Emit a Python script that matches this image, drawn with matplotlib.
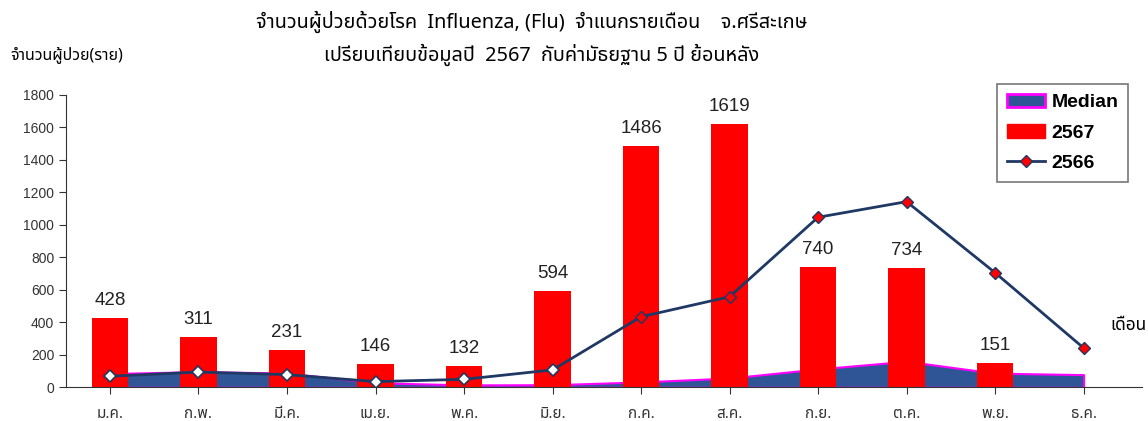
import matplotlib
matplotlib.use("Agg")
import matplotlib.pyplot as plt
from matplotlib import font_manager
from matplotlib.ft2font import FT2Font
from matplotlib.patches import Patch
from matplotlib.lines import Line2D
import numpy as np

# data
months = ["ม.ค.", "ก.พ.", "มี.ค.", "เม.ย.", "พ.ค.", "มิ.ย.",
          "ก.ค.", "ส.ค.", "ก.ย.", "ต.ค.", "พ.ย.", "ธ.ค."]
cases_2567 = [428, 311, 231, 146, 132, 594, 1486, 1619, 740, 734, 151, np.nan]
cases_2566 = [68, 94, 78, 35, 49, 107, 434, 557, 1046, 1142, 705, 242]
median_5yr = [85, 96, 88, 28, 15, 16, 33, 57, 113, 160, 87, 78]


def find_thai_font():
    # pick any installed family that actually has Thai glyphs
    found = []
    for f in font_manager.fontManager.ttflist:
        try:
            if 0x0E08 in FT2Font(f.fname).get_charmap():
                found.append(f.name)
        except Exception:
            pass
    for pref in ["Tahoma", "Noto Sans Thai", "Noto Sans Thai UI", "Loma", "Garuda", "Sarabun"]:
        if pref in found:
            return pref
    if found:
        return found[0]
    return "DejaVu Sans"


thai = find_thai_font()
plt.rcParams['font.family'] = [thai, 'Liberation Sans', 'DejaVu Sans']
num_font = ['Liberation Sans', 'DejaVu Sans']

fig = plt.figure(figsize=(11.48, 4.21), dpi=100)
ax = fig.add_axes([66 / 1148, 1 - 387.3 / 421, (1142 - 66) / 1148, (387.3 - 94.7) / 421])

x = np.arange(len(months))

ax.fill_between(x, median_5yr, 0, facecolor='#2F5597', edgecolor='#FF00FF', linewidth=1.5, zorder=1)
bars = ax.bar(x, cases_2567, width=0.41, color='#FF0000', zorder=2)
ax.plot(x, cases_2566, color='#1F3864', linewidth=2, zorder=3)
ax.plot(x[:6], cases_2566[:6], linestyle='none', marker='D', markersize=6.5,
        markerfacecolor='white', markeredgecolor='#1F3864', markeredgewidth=1.2, zorder=4)
ax.plot(x[6:], cases_2566[6:], linestyle='none', marker='D', markersize=6.5,
        markerfacecolor='#FF0000', markeredgecolor='#1F3864', markeredgewidth=1.0, zorder=4)

for xi, v in zip(x, cases_2567):
    if not np.isnan(v):
        ax.text(xi, v + 55, str(int(v)), ha='center', va='bottom', fontsize=13.5,
                family=num_font, color='#222222')

ax.set_xlim(-0.497, 11.66)
ax.set_ylim(0, 1800)
ax.set_yticks(range(0, 1801, 200))
ax.set_xticks(x)
ax.set_xticklabels(months, fontsize=11)
for lab in ax.get_yticklabels():
    lab.set_family(num_font)
    lab.set_fontsize(10)
ax.tick_params(axis='y', direction='out', length=5, colors='#333333')
ax.tick_params(axis='x', direction='out', length=5, pad=9, colors='#333333')
ax.spines['top'].set_visible(False)
ax.spines['right'].set_visible(False)
ax.spines['left'].set_color('#333333')
ax.spines['bottom'].set_color('#333333')

fig.text(532 / 1148, 1 - 22 / 421, "จำนวนผู้ป่วยด้วยโรค  Influenza, (Flu)  จำแนกรายเดือน    จ.ศรีสะเกษ",
         ha='center', va='center', fontsize=14.3, fontweight='bold')
fig.text(542 / 1148, 1 - 55 / 421, "เปรียบเทียบข้อมูลปี  2567  กับค่ามัธยฐาน 5 ปี ย้อนหลัง",
         ha='center', va='center', fontsize=14.3, fontweight='bold')
fig.text(10 / 1148, 1 - 55 / 421, "จำนวนผู้ป่วย(ราย)", ha='left', va='center',
         fontsize=11.5, fontweight='bold')
fig.text(1110 / 1148, 1 - 325 / 421, "เดือน", ha='left', va='center',
         fontsize=12.5, fontweight='bold')

handles = [
    Patch(facecolor='#2F5597', edgecolor='#FF00FF', linewidth=2),
    Patch(facecolor='#FF0000', edgecolor='#FF0000'),
    Line2D([0], [0], color='#1F3864', linewidth=2, marker='D', markersize=6,
           markerfacecolor='#FF0000', markeredgecolor='#1F3864'),
]
leg = fig.legend(handles, ["Median", "2567", "2566"], loc='upper right',
                 bbox_to_anchor=(1128 / 1148, 1 - 84 / 421), borderaxespad=0,
                 prop={'family': num_font, 'weight': 'bold', 'size': 14},
                 frameon=True, fancybox=False, labelspacing=0.65,
                 handlelength=2.0, borderpad=0.5, handletextpad=0.3)
leg.get_frame().set_edgecolor('#555555')
leg.get_frame().set_linewidth(1.2)

fig.savefig("out.png", dpi=100)
